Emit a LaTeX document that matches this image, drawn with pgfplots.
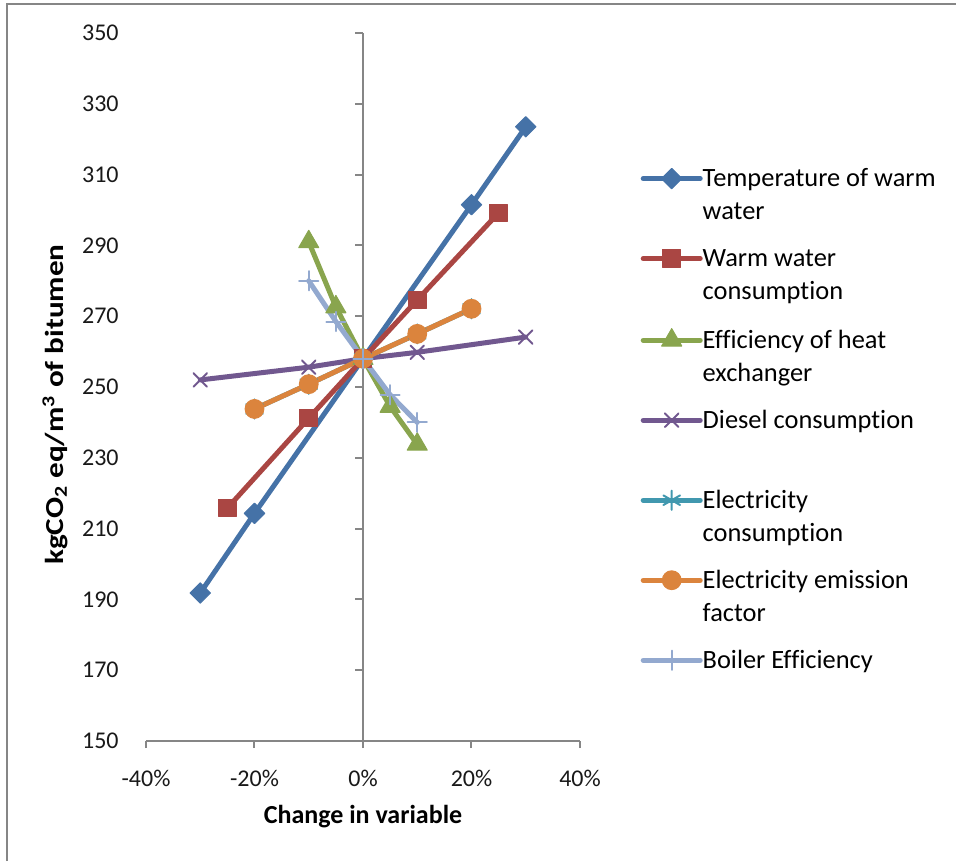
\documentclass[border=0pt]{standalone}
\usepackage{fontspec}
\setmainfont{Carlito}[Ligatures=NoCommon]
\usepackage{graphicx}
\usepackage{pgfplots}
\pgfplotsset{compat=1.18}
\definecolor{c1}{HTML}{4572A7}
\definecolor{c2}{HTML}{AA4643}
\definecolor{c3}{HTML}{89A54E}
\definecolor{c4}{HTML}{71588F}
\definecolor{c5}{HTML}{4198AF}
\definecolor{c6}{HTML}{DB843D}
\definecolor{c7}{HTML}{93A9CF}
\definecolor{axgray}{HTML}{868686}
\newcommand{\lbl}{\fontsize{12}{14.5}\selectfont}
\newcommand{\lgd}{\fontsize{13.2}{15.5}\selectfont}
\newcommand{\ttl}{\fontsize{13}{15}\selectfont}
\begin{document}
\begin{tikzpicture}[x=1pt,y=1pt]
\useasboundingbox (0,0) rectangle (478,430.5);
\draw[axgray, line width=1pt] (3.5,0) -- (3.5,428.5) -- (478,428.5);
\begin{axis}[
  at={(73pt,60pt)}, anchor=south west,
  scale only axis, width=217pt, height=354pt,
  xmin=-40, xmax=40, ymin=150, ymax=350,
  axis x line*=bottom, axis y line*=left,
  x axis line style={axgray, line width=1pt, -},
  y axis line style={draw=none},
  xtick={-40,-20,0,20,40},
  xticklabels={-40\%,-20\%,0\%,20\%,40\%},
  ytick={150,170,190,210,230,250,270,290,310,330,350},
  yticklabels={150,170,190,210,230,250,270,290,310,330,350},
  tick align=outside,
  major tick length=3.5pt,
  xtick style={axgray, line width=1pt},
  ytick style={draw=none},
  xticklabel style={font=\lbl, inner sep=0pt, anchor=center, yshift=-15pt, text=black!90},
  yticklabel style={font=\lbl, inner sep=0pt, anchor=east, xshift=-10pt, text=black!90},
  xlabel={Change in variable},
  ylabel={\scalebox{1.2}[1]{kgCO\textsubscript{2} eq/m\textsuperscript{3} of bitumen}},
  xlabel style={font=\ttl\bfseries, at={(axis description cs:0.5,-0.1073)}, anchor=center},
  ylabel style={font=\ttl\bfseries, at={(axis description cs:-0.2097,0.475)}, anchor=center, rotate=0},
  clip=false,
  every axis plot/.append style={line width=2.5pt, line join=round, line cap=round},
  legend style={at={(axis description cs:1.139,0.8093)}, anchor=north west, draw=none, fill=none,
    inner sep=0pt, row sep=0pt, column sep=0pt, font=\lgd,
    nodes={inner sep=0pt, text height=9pt, text depth=31pt}},
  legend cell align=left,
  legend image code/.code={\draw[yshift=15pt, mark repeat=2,mark phase=2] plot coordinates {(0pt,0pt)(14.25pt,0pt)(28.5pt,0pt)};},
]
\draw[axgray, line width=1pt] (axis cs:0,150) -- (axis cs:0,350);
\draw[axgray, line width=1pt] (axis cs:0,170) -- ++(-4pt,0pt);
\draw[axgray, line width=1pt] (axis cs:0,190) -- ++(-4pt,0pt);
\draw[axgray, line width=1pt] (axis cs:0,210) -- ++(-4pt,0pt);
\draw[axgray, line width=1pt] (axis cs:0,230) -- ++(-4pt,0pt);
\draw[axgray, line width=1pt] (axis cs:0,250) -- ++(-4pt,0pt);
\draw[axgray, line width=1pt] (axis cs:0,270) -- ++(-4pt,0pt);
\draw[axgray, line width=1pt] (axis cs:0,290) -- ++(-4pt,0pt);
\draw[axgray, line width=1pt] (axis cs:0,310) -- ++(-4pt,0pt);
\draw[axgray, line width=1pt] (axis cs:0,330) -- ++(-4pt,0pt);
\draw[axgray, line width=1pt] (axis cs:0,350) -- ++(-4pt,0pt);

\addplot[c1, mark=square*, mark options={rotate=45, mark size=3.6pt, line width=0.5pt, fill=c1}]
  coordinates {(-30,191.8) (-20,214.3) (0,258) (20,301.5) (30,323.5)};
\addlegendentry{\begin{tabular}[t]{@{}l@{}}Temperature of warm\\[1pt]water\end{tabular}}

\addplot[c2, mark=square*, mark options={mark size=4.4pt, line width=0.5pt, fill=c2}]
  coordinates {(-25,215.8) (-10,241.2) (0,258) (10,274.6) (25,299.2)};
\addlegendentry{\begin{tabular}[t]{@{}l@{}}Warm water\\[1pt]consumption\end{tabular}}

\addplot[c3, mark=triangle*, mark options={mark size=5.8pt, line width=0.5pt, fill=c3}]
  coordinates {(-10,291) (-5,272.6) (0,258) (5,244.5) (10,233.8)};
\addlegendentry{\begin{tabular}[t]{@{}l@{}}Efficiency of heat\\[1pt]exchanger\end{tabular}}

\addplot[c4, mark=x, mark options={mark size=4.8pt, line width=1pt}]
  coordinates {(-30,252) (-10,255.6) (0,258) (10,259.8) (30,264.1)};
\addlegendentry{Diesel consumption}

\addplot[c5, mark=asterisk, mark options={mark size=4.8pt, line width=1pt}]
  coordinates {(-20,243.8) (-10,250.8) (0,258) (10,265) (20,272.1)};
\addlegendentry{\begin{tabular}[t]{@{}l@{}}Electricity\\[1pt]consumption\end{tabular}}

\addplot[c6, mark=*, mark options={mark size=4.7pt, line width=0.5pt, fill=c6}]
  coordinates {(-20,243.8) (-10,250.8) (0,258) (10,265) (20,272.1)};
\addlegendentry{\begin{tabular}[t]{@{}l@{}}Electricity emission\\[1pt]factor\end{tabular}}

\addplot[c7, mark=+, mark options={mark size=4.8pt, line width=1pt}]
  coordinates {(-10,280) (-5,268.5) (0,258) (5,247.8) (10,240)};
\addlegendentry{Boiler Efficiency}
\end{axis}
\end{tikzpicture}
\end{document}
